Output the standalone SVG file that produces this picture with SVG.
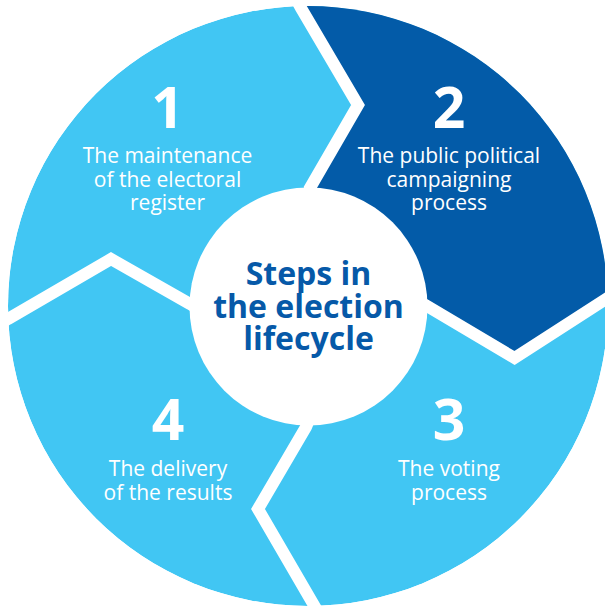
<svg xmlns="http://www.w3.org/2000/svg" width="605" height="610" viewBox="0 0 605 610">
  <defs>
    <clipPath id="outer">
      <circle cx="308" cy="306" r="300"/>
    </clipPath>
    <style>
      .light { fill: #41C6F3; }
      .dark { fill: #035BA8; }
      .sep { fill: none; stroke: #FFFFFF; stroke-width: 12; stroke-linejoin: miter; stroke-miterlimit: 10; }
      .num { font-family: "Open Sans", "Liberation Sans", sans-serif; font-weight: 700; font-size: 57px; fill: #FFFFFF; text-anchor: middle; }
      .lbl { font-family: "Open Sans", "Liberation Sans", sans-serif; font-weight: 400; font-size: 21px; fill: #FFFFFF; text-anchor: middle; }
      .title { font-family: "Open Sans", "Liberation Sans", sans-serif; font-weight: 700; font-size: 32px; fill: #0659A8; text-anchor: middle; }
    </style>
  </defs>
  <rect width="605" height="610" fill="#FFFFFF"/>
  <g id="ring" clip-path="url(#outer)">
    <circle class="light" cx="308" cy="306" r="300"/>
    <polygon id="segment2-fill" class="dark" points="308,306 310,188 358,105 301,8 295,-3 640,-3 640,290 620,290 606,299 514.5,358 427,306"/>
  </g>
  <g id="connectors">
    <polyline class="sep" points="312,200 310,188 358,105 301,8 295,-3"/>
    <polyline class="sep" points="420,302 427,306 514.5,358 606,299 620,290"/>
    <polyline class="sep" points="309,420 306,427 258,509 315,607 321,617"/>
    <polyline class="sep" points="198,309 190,304 111,259 8,319 -5,327"/>
  </g>
  <g id="center">
    <circle cx="308.5" cy="306.5" r="119" fill="#FFFFFF"/>
    <text class="title" x="308.5" y="285">Steps in</text>
    <text class="title" x="308.5" y="318">the election</text>
    <text class="title" x="308.5" y="350">lifecycle</text>
  </g>
  <g id="step1">
    <text class="num" x="167.5" y="128">1</text>
    <text class="lbl" x="167.5" y="163">The maintenance</text>
    <text class="lbl" x="167.5" y="186.5">of the electoral</text>
    <text class="lbl" x="167.5" y="210">register</text>
  </g>
  <g id="step2">
    <text class="num" x="449" y="128">2</text>
    <text class="lbl" x="449" y="163">The public political</text>
    <text class="lbl" x="449" y="186.5">campaigning</text>
    <text class="lbl" x="449" y="210">process</text>
  </g>
  <g id="step3">
    <text class="num" x="449" y="440">3</text>
    <text class="lbl" x="449" y="476">The voting</text>
    <text class="lbl" x="449" y="500">process</text>
  </g>
  <g id="step4">
    <text class="num" x="168" y="440">4</text>
    <text class="lbl" x="168" y="476">The delivery</text>
    <text class="lbl" x="168" y="500">of the results</text>
  </g>
</svg>
